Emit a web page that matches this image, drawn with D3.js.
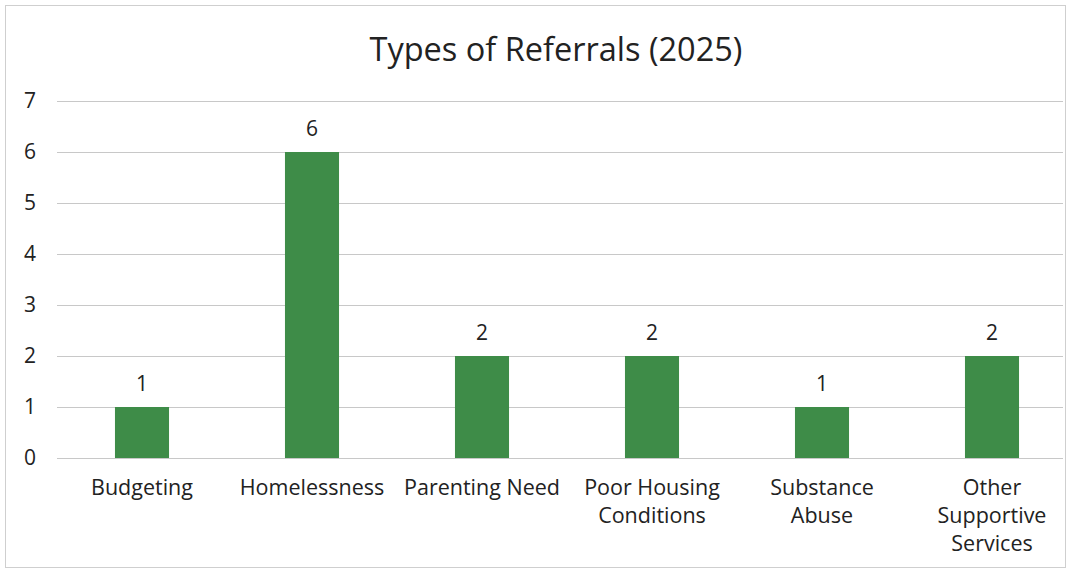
<!DOCTYPE html>
<html><head><meta charset="utf-8">
<script src="https://cdn.jsdelivr.net/npm/d3@7"></script>
<style>
html,body{margin:0;padding:0;background:#fff;}
svg{display:block;}
</style></head>
<body>
<script>
const categories = ["Budgeting","Homelessness","Parenting Need","Poor Housing Conditions","Substance Abuse","Other Supportive Services"];
const categoryLines = [["Budgeting"],["Homelessness"],["Parenting Need"],["Poor Housing","Conditions"],["Substance","Abuse"],["Other","Supportive","Services"]];
const values = [1,6,2,2,1,2];
const yTicks = [0,1,2,3,4,5,6,7];
const title = "Types of Referrals (2025)";

const W = 1071, H = 573;
const svg = d3.select("body").append("svg").attr("width", W).attr("height", H);
svg.append("rect").attr("x",5.5).attr("y",5.5).attr("width",W-11).attr("height",H-11)
  .attr("fill","#fff").attr("stroke","#cfcfcf").attr("stroke-width",1);

const x = d3.scaleBand().domain(categories).range([57, 1077]).paddingInner(0.682).paddingOuter(0.341);
const y = d3.scaleLinear().domain([0,7]).range([458, 101]);
const font = "'Open Sans', sans-serif";

svg.append("text").attr("x", 556).attr("y", 61).attr("text-anchor","middle")
  .attr("font-family", font).attr("font-size", 32.5).attr("fill","#222").text(title);

const yAxis = d3.axisLeft(y).tickValues(yTicks).tickFormat(d3.format("d")).tickSize(-(1063-57)).tickPadding(20);
const gy = svg.append("g").attr("transform","translate(57,0)").call(yAxis);
gy.select(".domain").remove();
gy.selectAll(".tick line").attr("stroke","#c8c8c8").attr("stroke-width",1.2);
gy.selectAll(".tick text").attr("font-family",font).attr("font-size",21).attr("fill","#222").attr("text-anchor","middle").attr("x",-27);

svg.selectAll("rect.bar").data(values).enter().append("rect").attr("class","bar")
  .attr("x",(d,i)=>x(categories[i])).attr("width",x.bandwidth())
  .attr("y",d=>y(d)).attr("height",d=>y(0)-y(d)).attr("fill","#3e8c48");

svg.selectAll("text.val").data(values).enter().append("text").attr("class","val")
  .attr("x",(d,i)=>x(categories[i])+x.bandwidth()/2).attr("y",d=>y(d)-16)
  .attr("text-anchor","middle").attr("font-family",font).attr("font-size",21).attr("fill","#222").text(d=>d);

const gx = svg.append("g");
categoryLines.forEach((lines,i)=>{
  const t = gx.append("text").attr("x", x(categories[i])+x.bandwidth()/2).attr("y", 495)
    .attr("text-anchor","middle").attr("font-family",font).attr("font-size",21.5).attr("fill","#222");
  lines.forEach((l,j)=>t.append("tspan").attr("x", x(categories[i])+x.bandwidth()/2).attr("dy", j===0?0:28).text(l));
});
</script>
</body></html>
